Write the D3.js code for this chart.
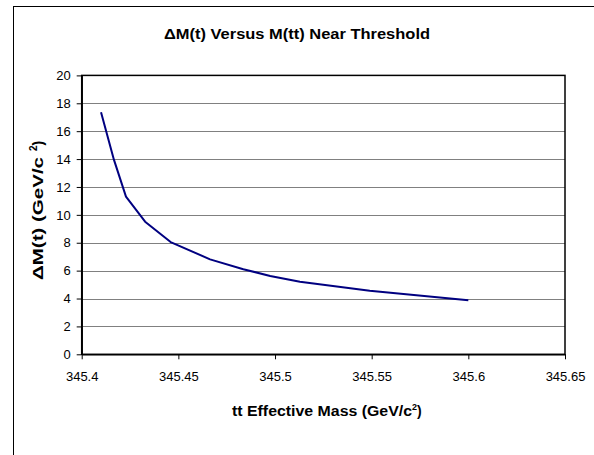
<!DOCTYPE html>
<html>
<head>
<meta charset="utf-8">
<script src="https://cdn.jsdelivr.net/npm/d3@7"></script>
<style>
  html, body { margin: 0; padding: 0; background: #fff; }
  svg { display: block; }
  text { font-family: Arial, "Liberation Sans", sans-serif; fill: #000; }
</style>
</head>
<body>
<script>
// Data
const massValues = [345.41, 345.4167, 345.4229, 345.4328, 345.446, 345.4664, 345.4836, 345.4975, 345.5129, 345.549, 345.6];
const deltaMValues = [17.36, 13.94, 11.31, 9.51, 8.05, 6.81, 6.10, 5.62, 5.21, 4.56, 3.88];
const xTicks = [345.4, 345.45, 345.5, 345.55, 345.6, 345.65];
const yTicks = [0, 2, 4, 6, 8, 10, 12, 14, 16, 18, 20];
const titleText = "ΔM(t) Versus M(tt) Near Threshold";

const W = 594, H = 455;
const plot = { left: 81.7, right: 565, top: 75.4, bottom: 354.3 };

const svg = d3.select("body").append("svg").attr("width", W).attr("height", H);

// outer chart border (extends past the right and bottom edges)
svg.append("rect")
  .attr("x", 13.5).attr("y", 6.5)
  .attr("width", W + 20).attr("height", H + 20)
  .attr("fill", "#fff").attr("stroke", "#000").attr("stroke-width", 1);

const x = d3.scaleLinear().domain([345.4, 345.65]).range([plot.left, plot.right]);
const y = d3.scaleLinear().domain([0, 20]).range([plot.bottom, plot.top]);

// gridlines
svg.append("g").selectAll("line")
  .data(yTicks.filter(v => v > 0 && v < 20))
  .join("line")
  .attr("x1", plot.left).attr("x2", plot.right)
  .attr("y1", d => Math.round(y(d)) + 0.5).attr("y2", d => Math.round(y(d)) + 0.5)
  .attr("stroke", "#808080").attr("stroke-width", 1);

// plot area border
svg.append("rect")
  .attr("x", plot.left).attr("y", plot.top)
  .attr("width", plot.right - plot.left).attr("height", plot.bottom - plot.top)
  .attr("fill", "none").attr("stroke", "#000").attr("stroke-width", 1.5);

// axes
const xAxis = d3.axisBottom(x).tickValues(xTicks).tickSize(5).tickSizeOuter(0)
  .tickFormat(d => String(+d.toFixed(2)));
const gx = svg.append("g").attr("transform", `translate(0,${plot.bottom})`).call(xAxis);
gx.select(".domain").attr("stroke", "#000").attr("stroke-width", 1.5);
gx.selectAll(".tick line").attr("stroke", "#000");
gx.selectAll(".tick text").attr("font-size", 13).attr("font-family", "Arial, 'Liberation Sans', sans-serif")
  .attr("y", 17).attr("dy", "0.71em").attr("fill", "#000");

const yAxis = d3.axisLeft(y).tickValues(yTicks).tickSize(5).tickSizeOuter(0);
const gy = svg.append("g").attr("transform", `translate(${plot.left},0)`).call(yAxis);
gy.select(".domain").attr("stroke", "#000").attr("stroke-width", 1.5);
gy.selectAll(".tick line").attr("stroke", "#000");
gy.selectAll(".tick text").attr("font-size", 13).attr("font-family", "Arial, 'Liberation Sans', sans-serif")
  .attr("x", -11).attr("fill", "#000");

// data line
const line = d3.line().x((d, i) => x(massValues[i])).y(d => y(d));
svg.append("path")
  .datum(deltaMValues)
  .attr("d", line)
  .attr("fill", "none")
  .attr("stroke", "#000080")
  .attr("stroke-width", 2)
  .attr("stroke-linejoin", "round");

// title
svg.append("text")
  .attr("x", 297).attr("y", 39)
  .attr("text-anchor", "middle")
  .attr("font-size", 15).attr("font-weight", "bold")
  .attr("textLength", 266).attr("lengthAdjust", "spacingAndGlyphs")
  .text(titleText);

// x axis title
const xt = svg.append("text")
  .attr("x", 232).attr("y", 416)
  .attr("font-size", 14).attr("font-weight", "bold");
xt.append("tspan").attr("textLength", 180).attr("lengthAdjust", "spacingAndGlyphs").text("tt Effective Mass (GeV/c");
xt.append("tspan").attr("dy", -6).attr("font-size", 9).text("2");
xt.append("tspan").attr("dy", 6).text(")");

// y axis title
const yt = svg.append("text")
  .attr("transform", "translate(43,280) rotate(-90)")
  .attr("font-size", 14).attr("font-weight", "bold");
yt.append("tspan").attr("textLength", 123).attr("lengthAdjust", "spacingAndGlyphs").text("ΔM(t) (GeV/c");
yt.append("tspan").attr("dx", 6).attr("dy", -6).attr("font-size", 10).text("2");
yt.append("tspan").attr("dy", 6).text(")");
</script>
</body>
</html>
